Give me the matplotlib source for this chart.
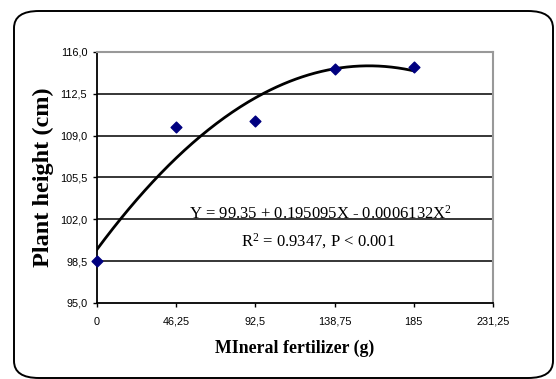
import numpy as np
import matplotlib
matplotlib.use("Agg")
import matplotlib.pyplot as plt
from matplotlib.patches import FancyBboxPatch

serif = "Liberation Serif"
plt.rcParams["mathtext.fontset"] = "custom"
plt.rcParams["mathtext.rm"] = serif
plt.rcParams["mathtext.it"] = serif + ":italic"

# data
fert = [0, 46.25, 92.5, 138.75, 185]
height = [98.5, 109.75, 110.2, 114.6, 114.75]
xticks = [0, 46.25, 92.5, 138.75, 185, 231.25]
xlabels = ["0", "46,25", "92,5", "138,75", "185", "231,25"]
yticks = [95.0, 98.5, 102.0, 105.5, 109.0, 112.5, 116.0]
ylabels = ["95,0", "98,5", "102,0", "105,5", "109,0", "112,5", "116,0"]

W, H = 556, 379
fig = plt.figure(figsize=(W / 100, H / 100), dpi=100)
ax = fig.add_axes([97 / W, 1 - 303 / H, (493 - 97) / W, (303 - 52) / H])

# rounded outer frame
frame = FancyBboxPatch((14 / W, 1 / H), (553 - 14) / W, (368 - 1) / H,
                       boxstyle="round,pad=0,rounding_size=0.045",
                       transform=fig.transFigure, fill=False, lw=1.4,
                       ec="black", clip_on=False)
fig.patches.append(frame)

# quadratic trend line from the points
coef = np.polyfit(fert, height, 2)
xs = np.linspace(0, 185, 200)
ax.plot(xs, np.polyval(coef, xs), color="black", lw=2, zorder=3)
ax.scatter(fert, height, marker="D", s=30, color="#000080", zorder=4, clip_on=False)

ax.set_xlim(0, 231.25)
ax.set_ylim(95, 116)
ax.set_xticks(xticks)
ax.set_xticklabels(xlabels)
ax.set_yticks(yticks)
ax.set_yticklabels(ylabels)
for t in yticks[1:-1]:
    ax.axhline(t, color="black", lw=1.1, zorder=1)

ax.tick_params(labelsize=7.8, length=3, width=1, direction="out", pad=4)
for lab in ax.get_xticklabels() + ax.get_yticklabels():
    lab.set_family("Liberation Sans")
ax.tick_params(axis="x", pad=7)

ax.spines["left"].set_color("black")
ax.spines["bottom"].set_color("black")
ax.spines["left"].set_linewidth(1.3)
ax.spines["bottom"].set_linewidth(1.3)
ax.spines["top"].set_color("#999999")
ax.spines["right"].set_color("#999999")
ax.spines["top"].set_linewidth(1.5)
ax.spines["right"].set_linewidth(1.5)

ax.set_xlabel("MIneral fertilizer (g)", family=serif, fontweight="bold", fontsize=12.8, labelpad=9)
ax.set_ylabel("Plant height (cm)", family=serif, fontweight="bold", fontsize=17.5, labelpad=4)

ax.text(0.565, 0.355, r"Y = 99.35 + 0.195095X - 0.0006132X$^2$", transform=ax.transAxes,
        ha="center", va="center", family=serif, fontsize=12)
ax.text(0.56, 0.245, r"R$^2$ = 0.9347, P < 0.001", transform=ax.transAxes,
        ha="center", va="center", family=serif, fontsize=12)

fig.savefig("out.png", dpi=100)
